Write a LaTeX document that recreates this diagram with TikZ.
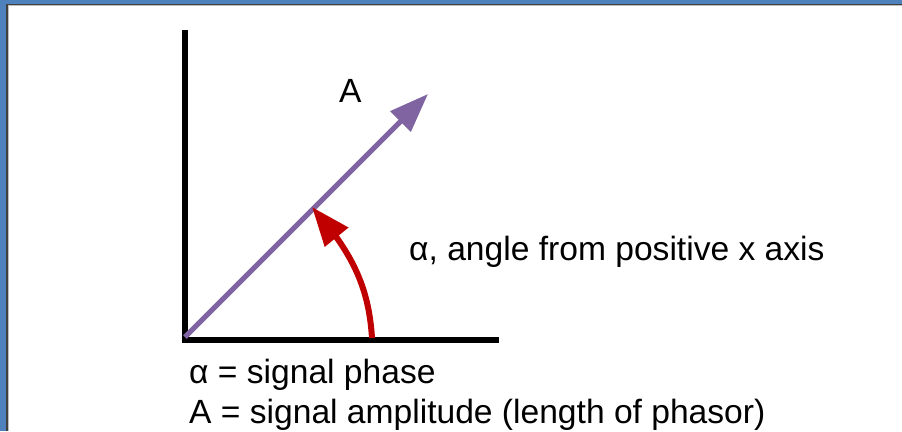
\documentclass[tikz,border=0pt]{standalone}
\usepackage{fontspec}
\setmainfont{Liberation Sans}
\usetikzlibrary{arrows.meta,bending}
\definecolor{slideblue}{RGB}{79,129,189}
\definecolor{phasorpurple}{RGB}{128,100,162}
\definecolor{anglered}{RGB}{192,0,0}
\begin{document}
\begin{tikzpicture}[x=1pt,y=-1pt,
  axis/.style={line width=6pt,black},
  phasor/.style={line width=5pt,phasorpurple,-{Triangle[length=39pt,width=28pt]}},
  anglearrow/.style={line width=6pt,anglered,-{Triangle[length=39pt,width=29pt,flex]}},
  lbl/.style={inner sep=0pt,anchor=base west,font=\fontsize{33.6}{38}\selectfont}]
\useasboundingbox (0,0) rectangle (902,431);
\fill[white] (0,0) rectangle (902,431);
% slide frame
\fill[slideblue] (0,0) rectangle (902,3.5);
\fill[slideblue] (0,0) rectangle (6,431);
\draw[line width=1.6pt,black!75] (902,4.3) -- (6.8,4.3) -- (6.8,431);
\draw[line width=0.8pt,black!25] (902,5.6) -- (8.1,5.6) -- (8.1,431);
% axes
\coordinate (ytop) at (184.5,30);
\coordinate (origin) at (184.5,339.5);
\coordinate (xend) at (499,339.5);
\draw[axis] (ytop) -- (184.5,342.5);
\draw[axis] (181.5,339.5) -- (xend);
% phasor
\coordinate (pstart) at (185,337);
\coordinate (ptip) at (428,94);
\draw[phasor] (pstart) -- (ptip);
% angle arrow
\coordinate (astart) at (372,338);
\coordinate (atip) at (312,207);
\draw[anglearrow] (astart) .. controls (369,292) and (356,256) .. (atip);
% labels
\node[lbl] (lA) at (339,102) {A};
\node[lbl] (lalpha) at (409,260) {α, angle from positive x axis};
\node[lbl] (l1) at (189,383) {α = signal phase};
\node[lbl] (l2) at (189,423) {A = signal amplitude (length of phasor)};
\end{tikzpicture}
\end{document}
